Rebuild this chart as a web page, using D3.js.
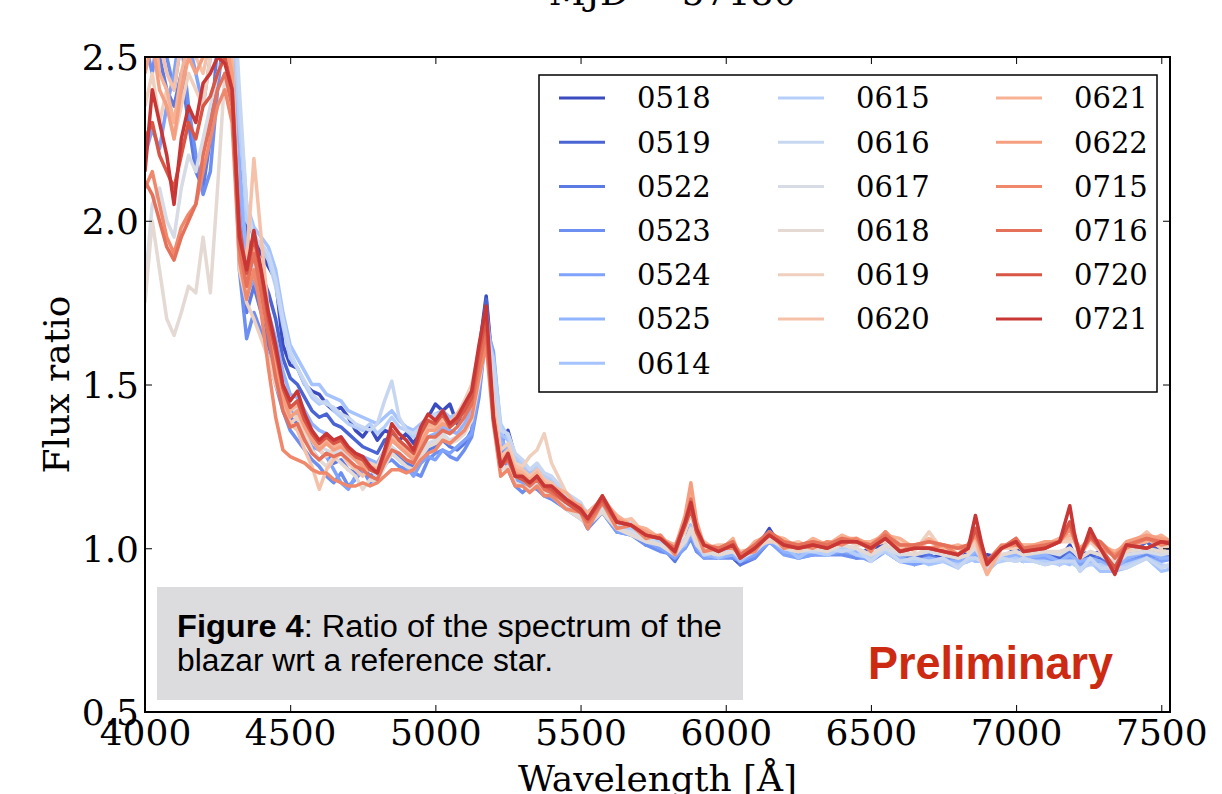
<!DOCTYPE html>
<html>
<head>
<meta charset="utf-8">
<script src="https://cdn.jsdelivr.net/npm/d3@7"></script>
<style>
  body { margin: 0; background: #fff; }
  svg { display: block; }
</style>
</head>
<body>
<div id="chart"></div>
<script>
// wavelength grid (Angstrom)
const wavelengths = [4000,4025,4050,4075,4100,4125,4150,4175,4200,4225,4250,4275,4300,4325,4350,4375,4400,4425,4450,4475,4500,4525,4550,4575,4600,4625,4650,4675,4700,4725,4750,4775,4800,4825,4850,4875,4900,4925,4950,4975,5000,5025,5050,5075,5100,5125,5150,5175,5200,5225,5250,5275,5300,5325,5350,5375,5400,
  5450,5500,5525,5575,5625,5675,5725,5775,5825,5860,5880,5900,5925,5975,6025,6050,6100,6150,6200,6250,6300,6350,6400,6450,6500,6550,6600,6650,6700,6750,6800,6835,6860,6880,6900,6950,7000,7025,7100,7150,7185,7200,7220,7255,7290,7340,7380,7450,7500,7550];

const dates = ["0518","0519","0522","0523","0524","0525","0614","0615","0616","0617","0618","0619","0620","0621","0622","0715","0716","0720","0721"];

// flux ratio per night
const s0518 = [2.70,2.85,2.75,2.80,2.65,2.70,2.60,2.55,2.62,2.75,2.80,2.85,2.70,2.30,2.02,1.95,1.90,1.86,1.82,1.62,1.56,1.55,1.50,1.48,1.47,1.44,1.42,1.43,1.40,1.36,1.34,1.37,1.33,1.36,1.35,1.33,1.35,1.32,1.36,1.40,1.44,1.42,1.44,1.38,1.43,1.47,1.60,1.77,1.52,1.32,1.36,1.28,1.25,1.22,1.24,1.21,1.20,
  1.16,1.13,1.09,1.15,1.06,1.05,1.02,1.03,0.98,1.02,1.05,1.01,0.98,0.99,0.97,0.95,0.99,1.06,0.99,1.00,0.98,1.01,0.99,0.98,1.00,1.01,0.96,0.98,0.97,0.98,0.96,0.99,1.00,0.97,0.98,0.97,1.00,0.97,0.99,0.97,1.01,0.98,0.99,0.98,0.99,0.95,1.00,1.04,0.98,1.01];
const s0519 = [2.75,2.80,2.70,2.65,2.55,2.60,2.70,2.65,2.58,2.70,2.78,2.82,2.65,2.20,1.95,1.90,1.84,1.78,1.70,1.58,1.52,1.50,1.46,1.42,1.40,1.41,1.38,1.37,1.35,1.33,1.31,1.30,1.29,1.33,1.34,1.31,1.30,1.29,1.33,1.37,1.38,1.40,1.39,1.41,1.42,1.46,1.58,1.76,1.50,1.29,1.31,1.25,1.23,1.21,1.22,1.20,1.19,
  1.15,1.11,1.09,1.13,1.07,1.06,1.03,1.01,0.98,1.02,1.07,1.01,0.98,0.97,0.99,0.97,0.99,1.04,1.00,0.98,0.99,0.99,1.00,0.98,0.98,1.00,0.97,0.97,0.98,0.96,0.96,0.97,1.00,0.97,0.96,0.97,0.99,0.97,0.98,0.97,0.99,0.98,0.97,0.98,0.97,0.95,0.98,1.02,0.98,0.99];
const s0522 = [2.60,2.65,2.50,2.40,2.35,2.45,2.30,2.15,2.10,2.25,2.55,2.70,2.60,2.00,1.72,1.80,1.72,1.62,1.55,1.45,1.40,1.38,1.33,1.30,1.27,1.29,1.26,1.27,1.24,1.23,1.25,1.22,1.24,1.27,1.30,1.28,1.26,1.25,1.27,1.30,1.31,1.33,1.31,1.30,1.32,1.36,1.50,1.70,1.55,1.30,1.28,1.22,1.20,1.19,1.21,1.18,1.17,
  1.12,1.11,1.06,1.13,1.05,1.06,1.01,1.01,0.96,1.01,1.04,0.99,0.98,0.97,0.99,0.95,0.97,1.02,1.00,0.97,0.99,0.98,1.00,0.97,0.98,0.99,0.98,0.95,0.98,0.96,0.96,0.96,1.00,0.96,0.97,0.97,0.99,0.96,0.99,0.95,0.99,0.96,0.97,0.96,0.98,0.93,0.98,0.99,0.99,0.97];
const s0523 = [2.55,2.45,2.60,2.50,2.40,2.55,2.35,2.20,2.08,2.15,2.40,2.60,2.50,1.85,1.64,1.72,1.66,1.58,1.50,1.42,1.36,1.33,1.30,1.27,1.25,1.22,1.20,1.23,1.19,1.21,1.24,1.20,1.22,1.26,1.27,1.25,1.24,1.23,1.22,1.27,1.29,1.30,1.28,1.27,1.30,1.34,1.46,1.66,1.58,1.33,1.24,1.19,1.17,1.19,1.18,1.16,1.15,
  1.12,1.10,1.06,1.11,1.05,1.04,1.01,0.99,0.98,1.00,1.03,0.99,0.97,0.97,0.97,0.96,0.97,1.02,0.99,0.97,0.98,0.98,0.98,0.97,0.97,0.99,0.96,0.96,0.96,0.97,0.96,0.97,0.98,0.96,0.96,0.97,0.97,0.96,0.97,0.96,0.97,0.96,0.95,0.96,0.96,0.94,0.96,0.98,0.97,0.98];
const s0524 = [2.20,2.28,2.22,2.35,2.45,2.60,2.55,2.45,2.35,2.50,2.65,2.70,2.55,2.05,1.78,1.82,1.75,1.66,1.57,1.47,1.42,1.40,1.35,1.31,1.30,1.28,1.24,1.20,1.18,1.22,1.23,1.26,1.21,1.25,1.29,1.27,1.25,1.22,1.26,1.28,1.27,1.30,1.29,1.31,1.33,1.35,1.48,1.68,1.60,1.36,1.26,1.21,1.20,1.18,1.19,1.17,1.16,
  1.12,1.09,1.07,1.11,1.05,1.04,1.02,1.00,0.97,1.00,1.04,1.00,0.97,0.98,0.98,0.96,0.98,1.02,0.98,0.97,0.98,0.98,0.99,0.98,0.96,0.99,0.96,0.95,0.96,0.96,0.95,0.96,0.98,0.96,0.95,0.97,0.97,0.96,0.97,0.96,0.97,0.96,0.95,0.96,0.95,0.93,0.96,0.97,0.96,0.97];
const s0525 = [2.65,2.75,2.60,2.55,2.70,2.80,2.75,2.65,2.55,2.65,2.72,2.78,2.60,2.15,1.90,1.88,1.82,1.72,1.64,1.54,1.47,1.46,1.42,1.38,1.36,1.35,1.33,1.32,1.30,1.29,1.28,1.27,1.26,1.30,1.33,1.31,1.29,1.28,1.31,1.34,1.35,1.37,1.36,1.35,1.38,1.42,1.55,1.72,1.56,1.33,1.30,1.24,1.22,1.20,1.21,1.19,1.18,
  1.14,1.11,1.08,1.13,1.06,1.05,1.02,1.01,0.98,1.01,1.05,1.01,0.98,0.97,0.98,0.96,0.99,1.03,0.99,0.98,0.99,0.98,1.00,0.99,0.97,1.00,0.97,0.96,0.97,0.96,0.96,0.97,0.99,0.97,0.96,0.97,0.98,0.97,0.98,0.96,0.98,0.97,0.96,0.97,0.96,0.93,0.97,0.99,0.97,0.97];
const s0614 = [2.75,2.80,2.65,2.70,2.75,2.85,2.70,2.65,2.70,2.80,2.85,2.90,2.75,2.35,2.05,1.98,1.95,1.92,1.85,1.72,1.62,1.58,1.54,1.50,1.50,1.47,1.46,1.45,1.42,1.41,1.40,1.39,1.38,1.40,1.42,1.39,1.37,1.36,1.38,1.40,1.41,1.42,1.40,1.41,1.43,1.46,1.56,1.70,1.55,1.35,1.33,1.27,1.25,1.23,1.24,1.21,1.20,
  1.16,1.11,1.11,1.14,1.08,1.05,1.04,1.01,1.00,1.01,1.07,1.01,1.00,0.97,1.00,0.96,1.00,1.02,1.01,0.97,1.00,0.98,1.01,0.98,0.98,0.99,0.96,0.97,0.95,0.96,0.94,0.97,0.96,0.96,0.93,0.97,0.96,0.97,0.95,0.96,0.95,0.96,0.93,0.96,0.93,0.93,0.94,0.97,0.93,0.94];
const s0615 = [2.70,2.75,2.85,2.80,2.70,2.65,2.75,2.80,2.75,2.70,2.80,2.85,2.70,2.30,2.00,1.96,1.92,1.88,1.80,1.68,1.58,1.55,1.50,1.46,1.44,1.45,1.42,1.40,1.38,1.37,1.36,1.38,1.35,1.37,1.40,1.37,1.36,1.34,1.36,1.38,1.40,1.39,1.37,1.40,1.41,1.44,1.52,1.66,1.58,1.38,1.34,1.28,1.26,1.24,1.25,1.22,1.21,
  1.16,1.13,1.11,1.15,1.08,1.06,1.04,1.02,0.99,1.02,1.05,1.01,0.98,0.99,0.99,0.97,1.00,1.04,1.00,0.99,0.99,0.98,1.00,0.98,0.97,0.99,0.96,0.96,0.96,0.96,0.95,0.96,0.97,0.96,0.95,0.96,0.97,0.96,0.96,0.95,0.96,0.95,0.94,0.95,0.95,0.93,0.95,0.97,0.95,0.94];
const s0616 = [2.80,2.70,2.75,2.85,2.80,2.75,2.70,2.75,2.80,2.85,2.80,2.90,2.80,2.40,2.05,1.95,1.93,1.90,1.82,1.70,1.60,1.55,1.51,1.47,1.45,1.44,1.43,1.41,1.40,1.38,1.37,1.36,1.38,1.45,1.51,1.40,1.36,1.35,1.37,1.39,1.41,1.40,1.39,1.40,1.42,1.46,1.54,1.68,1.55,1.36,1.35,1.29,1.27,1.24,1.26,1.23,1.22,
  1.17,1.14,1.10,1.15,1.07,1.08,1.03,1.04,0.99,1.03,1.05,1.03,0.98,0.99,0.99,0.99,0.99,1.04,1.00,1.00,0.99,1.00,0.99,1.00,0.96,1.00,0.96,0.97,0.96,0.97,0.94,0.97,0.97,0.96,0.94,0.97,0.96,0.97,0.95,0.96,0.96,0.96,0.93,0.97,0.94,0.94,0.94,0.97,0.94,0.96];
const s0617 = [1.80,2.05,2.10,2.00,1.95,2.10,2.20,2.15,2.25,2.35,2.45,2.50,2.40,1.95,1.80,1.86,1.78,1.68,1.58,1.48,1.43,1.42,1.38,1.34,1.31,1.30,1.29,1.30,1.28,1.27,1.26,1.24,1.22,1.27,1.31,1.29,1.27,1.26,1.29,1.32,1.33,1.35,1.33,1.34,1.36,1.40,1.52,1.66,1.45,1.28,1.27,1.22,1.21,1.19,1.20,1.18,1.17,
  1.13,1.10,1.08,1.12,1.06,1.05,1.03,1.01,0.99,1.02,1.06,1.02,0.99,0.98,0.99,0.97,0.99,1.03,1.00,0.99,1.00,0.99,1.01,1.00,0.98,1.00,0.98,0.98,0.99,0.98,0.97,0.98,1.00,0.97,0.96,0.98,0.99,0.98,0.99,0.98,1.00,0.99,0.97,0.99,0.98,0.95,0.98,0.99,0.98,0.99];
const s0618 = [1.75,2.00,1.85,1.70,1.65,1.72,1.80,1.78,1.95,1.78,2.10,2.45,2.35,1.90,1.78,1.84,1.76,1.66,1.57,1.47,1.41,1.40,1.35,1.30,1.27,1.25,1.28,1.26,1.24,1.22,1.18,1.21,1.20,1.25,1.29,1.27,1.25,1.24,1.28,1.31,1.32,1.34,1.32,1.33,1.35,1.39,1.50,1.64,1.42,1.24,1.25,1.20,1.19,1.18,1.19,1.17,1.16,
  1.12,1.09,1.07,1.11,1.06,1.04,1.02,1.01,0.98,1.02,1.06,1.01,0.99,0.98,0.99,0.97,1.00,1.03,1.00,0.99,1.00,0.99,1.01,1.00,0.98,1.01,0.99,0.98,1.00,0.98,0.97,0.98,1.01,0.97,0.95,0.98,0.99,0.98,0.99,0.99,1.00,0.99,0.97,0.99,0.98,0.96,0.99,1.00,0.99,0.99];
const s0619 = [2.35,2.45,2.30,2.40,2.25,2.35,2.45,2.40,2.35,2.50,2.60,2.55,2.45,1.85,1.75,1.70,1.64,1.58,1.50,1.44,1.38,1.40,1.36,1.33,1.30,1.28,1.30,1.32,1.29,1.27,1.24,1.26,1.25,1.30,1.33,1.31,1.30,1.28,1.34,1.40,1.38,1.40,1.38,1.41,1.45,1.50,1.60,1.70,1.45,1.30,1.32,1.26,1.25,1.28,1.30,1.35,1.26,
  1.17,1.12,1.11,1.14,1.10,1.07,1.06,1.03,1.01,1.05,1.11,1.03,1.01,0.99,1.02,0.97,1.01,1.02,1.02,0.99,1.02,1.00,1.03,1.01,1.01,1.02,1.02,0.99,1.05,0.99,1.00,0.99,1.02,0.97,0.96,1.00,1.00,1.01,1.00,1.02,1.02,1.02,0.98,1.02,0.99,0.98,0.99,1.03,1.00,1.01];
const s0620 = [2.50,2.60,2.55,2.45,2.40,2.55,2.60,2.50,2.45,2.55,2.65,2.60,2.50,1.95,1.88,2.19,1.95,1.72,1.58,1.45,1.38,1.36,1.30,1.25,1.18,1.24,1.27,1.29,1.26,1.24,1.22,1.25,1.24,1.29,1.33,1.31,1.29,1.27,1.32,1.37,1.36,1.39,1.37,1.40,1.43,1.47,1.58,1.68,1.43,1.28,1.30,1.25,1.24,1.22,1.24,1.21,1.20,
  1.15,1.13,1.09,1.16,1.08,1.09,1.04,1.04,0.99,1.08,1.12,1.06,1.00,1.01,1.01,0.99,1.00,1.05,1.01,1.02,1.00,1.02,1.02,1.03,1.00,1.05,1.00,1.01,1.02,1.01,0.98,1.01,1.03,0.96,0.92,1.00,1.01,1.01,1.01,1.03,1.03,1.03,0.99,1.03,1.00,0.99,1.00,1.05,1.01,1.02];
const s0621 = [2.55,2.65,2.45,2.40,2.30,2.45,2.55,2.50,2.55,2.60,2.62,2.58,2.48,1.95,1.82,1.95,1.82,1.70,1.60,1.48,1.42,1.44,1.38,1.34,1.31,1.33,1.31,1.32,1.30,1.28,1.26,1.25,1.24,1.29,1.34,1.32,1.30,1.28,1.33,1.38,1.37,1.40,1.38,1.41,1.44,1.48,1.60,1.70,1.42,1.27,1.29,1.24,1.23,1.21,1.23,1.20,1.19,
  1.17,1.12,1.11,1.15,1.10,1.07,1.06,1.03,1.01,1.07,1.17,1.05,1.02,0.99,1.03,0.97,1.02,1.04,1.03,1.00,1.03,1.01,1.04,1.02,1.02,1.04,1.03,1.00,1.03,1.00,1.01,1.00,1.04,0.97,0.92,1.00,1.01,1.01,1.01,1.03,1.04,1.04,0.99,1.04,1.01,0.99,1.01,1.02,1.04,1.01];
const s0622 = [2.45,2.55,2.40,2.35,2.25,2.40,2.50,2.45,2.50,2.55,2.60,2.55,2.45,1.92,1.80,1.92,1.80,1.68,1.56,1.46,1.40,1.42,1.37,1.33,1.30,1.32,1.30,1.31,1.29,1.27,1.25,1.24,1.23,1.28,1.33,1.31,1.29,1.27,1.32,1.36,1.36,1.38,1.37,1.39,1.42,1.46,1.58,1.66,1.40,1.26,1.28,1.23,1.22,1.20,1.22,1.19,1.18,
  1.15,1.13,1.09,1.16,1.09,1.07,1.05,1.03,1.00,1.10,1.20,1.08,1.01,1.00,1.02,0.98,1.01,1.05,1.02,1.01,1.02,1.01,1.03,1.03,1.01,1.05,1.01,1.01,1.02,1.01,1.00,1.01,1.06,0.99,0.95,1.00,1.03,1.00,1.02,1.02,1.06,1.03,1.00,1.03,1.02,0.98,1.02,1.04,1.03,1.02];
const s0715 = [2.10,2.15,2.05,1.95,1.90,1.98,2.02,2.05,2.15,2.25,2.35,2.40,2.30,1.88,1.76,1.85,1.72,1.55,1.40,1.30,1.28,1.27,1.26,1.24,1.23,1.23,1.21,1.20,1.19,1.19,1.20,1.19,1.20,1.22,1.24,1.24,1.23,1.24,1.27,1.29,1.30,1.33,1.32,1.34,1.36,1.40,1.52,1.62,1.38,1.22,1.24,1.19,1.19,1.17,1.19,1.16,1.16,
  1.12,1.11,1.06,1.14,1.06,1.07,1.03,1.04,0.98,1.08,1.13,1.05,0.99,1.00,1.00,0.98,0.99,1.05,1.00,1.01,1.00,1.02,1.01,1.03,0.99,1.05,0.99,1.01,1.00,1.01,0.98,1.01,1.04,1.00,0.96,1.01,1.01,1.00,1.00,1.02,1.06,1.03,0.98,1.03,1.00,0.98,1.00,1.03,1.01,1.02];
const s0716 = [2.12,2.08,2.00,1.92,1.88,1.95,2.00,2.05,2.20,2.30,2.40,2.45,2.35,1.92,1.80,1.90,1.78,1.65,1.52,1.42,1.37,1.38,1.33,1.29,1.27,1.29,1.28,1.29,1.27,1.25,1.24,1.22,1.21,1.26,1.30,1.29,1.27,1.26,1.30,1.34,1.34,1.36,1.35,1.37,1.40,1.44,1.56,1.66,1.40,1.25,1.27,1.22,1.21,1.19,1.21,1.18,1.17,
  1.14,1.11,1.08,1.14,1.08,1.07,1.04,1.03,1.00,1.08,1.15,1.05,1.01,1.00,1.02,0.98,1.01,1.05,1.02,1.01,1.02,1.01,1.03,1.02,1.01,1.04,1.01,1.01,1.02,1.01,1.00,1.01,1.06,1.00,0.96,1.00,1.03,1.00,1.01,1.02,1.08,1.03,0.99,1.03,1.02,0.97,1.01,1.03,1.02,1.02];
const s0720 = [2.25,2.30,2.20,2.15,2.10,2.20,2.30,2.25,2.35,2.38,2.45,2.50,2.40,1.98,1.84,1.95,1.84,1.70,1.60,1.49,1.43,1.45,1.39,1.35,1.32,1.34,1.32,1.33,1.30,1.28,1.27,1.24,1.23,1.29,1.36,1.33,1.31,1.29,1.35,1.39,1.38,1.41,1.37,1.39,1.42,1.46,1.60,1.70,1.39,1.25,1.28,1.22,1.21,1.20,1.22,1.19,1.18,
  1.14,1.11,1.09,1.15,1.08,1.07,1.04,1.03,0.99,1.07,1.12,1.05,1.01,0.99,1.01,0.97,1.00,1.04,1.01,1.00,1.01,1.00,1.02,1.02,1.00,1.03,0.99,1.00,1.00,0.99,0.98,1.00,1.06,1.01,0.96,1.00,1.02,0.99,1.00,1.02,1.08,1.04,0.98,1.04,1.00,0.94,1.01,1.00,1.02,1.01];
const s0721 = [2.15,2.40,2.30,2.20,2.05,2.25,2.35,2.30,2.42,2.45,2.50,2.48,2.40,1.95,1.85,1.97,1.85,1.72,1.62,1.50,1.45,1.48,1.41,1.36,1.33,1.35,1.33,1.34,1.31,1.29,1.28,1.25,1.23,1.30,1.38,1.35,1.33,1.30,1.37,1.41,1.39,1.42,1.38,1.40,1.44,1.48,1.62,1.74,1.40,1.25,1.29,1.22,1.22,1.20,1.22,1.19,1.19,
  1.15,1.12,1.09,1.16,1.08,1.07,1.04,1.03,0.99,1.08,1.14,1.06,1.01,0.99,1.01,0.97,1.00,1.04,1.01,1.00,1.01,1.00,1.02,1.02,1.00,1.03,0.99,1.00,1.00,0.99,0.98,1.00,1.10,1.02,0.95,1.00,1.02,0.99,1.00,1.02,1.13,1.05,0.97,1.06,1.00,0.92,1.01,1.00,1.02,1.01];

const fluxes = [s0518,s0519,s0522,s0523,s0524,s0525,s0614,s0615,s0616,s0617,s0618,s0619,s0620,s0621,s0622,s0715,s0716,s0720,s0721];

const xTicks = [4000,4500,5000,5500,6000,6500,7000,7500];
const yTicks = [0.5,1.0,1.5,2.0,2.5];

// coolwarm colormap anchors (33 steps)
const coolwarm = ["#3b4cc0","#445acc","#4d68d7","#5775e1","#6282ea","#6c8ef1","#779af7","#82a5fb","#8db0fe","#98b9ff","#a3c2ff","#aec9fd","#b8d0f9","#c2d5f4","#ccd9ee","#d5dbe6","#dddddd","#e5d8d1","#ecd3c5","#f1ccb8","#f5c4ac","#f7bb9f","#f7b193","#f7a686","#f49a7b","#f18d6f","#ec7f63","#e57059","#de604d","#d55042","#cb3e38","#c0282f","#b40426"];

const W = 1222, H = 794;
const pLeft = 145, pRight = 1170, pTop = 57, pBottom = 712;
const serif = "'DejaVu Serif', serif";

const cmap = d3.scaleLinear()
  .domain(coolwarm.map((c,i) => i/32))
  .range(coolwarm)
  .interpolate(d3.interpolateRgb);

const x = d3.scaleLinear().domain([4000,7530]).range([pLeft,pRight]);
const y = d3.scaleLinear().domain([0.5,2.5]).range([pBottom,pTop]);

const svg = d3.select("#chart").append("svg")
  .attr("width",W).attr("height",H)
  .style("background","#fff");

svg.append("defs").append("clipPath").attr("id","plotclip")
  .append("rect")
  .attr("x",pLeft).attr("y",pTop)
  .attr("width",pRight-pLeft).attr("height",pBottom-pTop);

// title, only the bottom of it is inside the picture
svg.append("text")
  .attr("x",(pLeft+pRight)/2+15).attr("y",5)
  .attr("text-anchor","middle")
  .style("font-family",serif).style("font-size","36px")
  .text("MJD ~ 57180");

const line = d3.line()
  .x((d,i) => x(wavelengths[i]))
  .y(d => y(d));

svg.append("g").attr("clip-path","url(#plotclip)")
  .selectAll("path")
  .data(fluxes)
  .join("path")
  .attr("d",line)
  .attr("fill","none")
  .attr("stroke",(d,i) => cmap(i/19))
  .attr("stroke-width",3.5)
  .attr("stroke-linejoin","round");

// caption box
svg.append("rect")
  .attr("x",157).attr("y",587)
  .attr("width",586).attr("height",113)
  .attr("fill","#dcdcde");

const cap1 = svg.append("text")
  .attr("x",177).attr("y",637)
  .attr("textLength",545).attr("lengthAdjust","spacingAndGlyphs")
  .style("font-family","'Liberation Sans', Arial, sans-serif")
  .style("font-size","31px");
cap1.append("tspan").style("font-weight","bold").text("Figure 4");
cap1.append("tspan").text(": Ratio of the spectrum of the");

svg.append("text")
  .attr("x",177).attr("y",671)
  .attr("textLength",376).attr("lengthAdjust","spacingAndGlyphs")
  .style("font-family","'Liberation Sans', Arial, sans-serif")
  .style("font-size","31px")
  .text("blazar wrt a reference star.");

svg.append("text")
  .attr("x",868).attr("y",679)
  .attr("textLength",245).attr("lengthAdjust","spacingAndGlyphs")
  .style("font-family","'Liberation Sans', Arial, sans-serif")
  .style("font-size","46px").style("font-weight","bold")
  .style("fill","#cd2a12")
  .text("Preliminary");

// axes
const xAxis = svg.append("g").attr("transform","translate(0,"+pBottom+")")
  .call(d3.axisBottom(x).tickValues(xTicks).tickSize(-7).tickFormat(d3.format("d")));
xAxis.selectAll("text").attr("y",33).attr("dy",0)
  .style("font-family",serif).style("font-size","36px");

svg.append("g").attr("transform","translate(0,"+pTop+")")
  .call(d3.axisTop(x).tickValues(xTicks).tickSize(-7).tickFormat(""));

const yAxis = svg.append("g").attr("transform","translate("+pLeft+",0)")
  .call(d3.axisLeft(y).tickValues(yTicks).tickSize(-7).tickFormat(d3.format(".1f")));
yAxis.selectAll("text").attr("x",-6).attr("dy","0.36em")
  .style("font-family",serif).style("font-size","36px");

svg.append("g").attr("transform","translate("+pRight+",0)")
  .call(d3.axisRight(y).tickValues(yTicks).tickSize(-7).tickFormat(""));

svg.selectAll(".domain").remove();
svg.selectAll(".tick line").attr("stroke","#000").attr("stroke-width",1);

svg.append("rect")
  .attr("x",pLeft).attr("y",pTop)
  .attr("width",pRight-pLeft).attr("height",pBottom-pTop)
  .attr("fill","none").attr("stroke","#000").attr("stroke-width",2);

svg.append("text")
  .attr("transform","translate(56,"+((pTop+pBottom)/2)+") rotate(-90)")
  .attr("text-anchor","middle").attr("dy","0.35em")
  .style("font-family",serif).style("font-size","36px")
  .text("Flux ratio");

svg.append("text")
  .attr("x",(pLeft+pRight)/2).attr("y",791)
  .attr("text-anchor","middle")
  .style("font-family",serif).style("font-size","36px")
  .text("Wavelength [Å]");

// legend, 3 columns filled top to bottom
const legend = svg.append("g");
legend.append("rect")
  .attr("x",539).attr("y",75)
  .attr("width",618).attr("height",317)
  .attr("fill","#fff").attr("stroke","#000").attr("stroke-width",1.5);

const colX = [559,778,996];
const item = legend.selectAll("g.item")
  .data(dates)
  .join("g")
  .attr("class","item")
  .attr("transform",(d,i) => {
    const c = i < 7 ? 0 : Math.floor((i-7)/6)+1;
    const r = i < 7 ? i : (i-7)%6;
    return "translate("+colX[c]+","+(98+r*44.2)+")";
  });
item.append("line")
  .attr("x1",0).attr("x2",46).attr("y1",0).attr("y2",0)
  .attr("stroke",(d,i) => cmap(i/19)).attr("stroke-width",3);
item.append("text")
  .attr("x",78).attr("dy","0.36em")
  .style("font-family",serif).style("font-size","29px")
  .text(d => d);
</script>
</body>
</html>
